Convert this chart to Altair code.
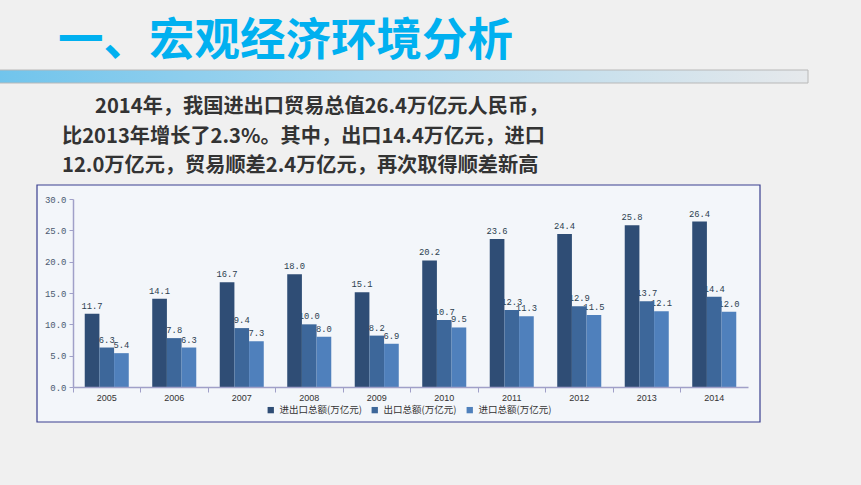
import altair as alt
import pandas as pd

years = ["2005", "2006", "2007", "2008", "2009", "2010", "2011", "2012", "2013", "2014"]
total = [11.7, 14.1, 16.7, 18.0, 15.1, 20.2, 23.6, 24.4, 25.8, 26.4]
exports = [6.3, 7.8, 9.4, 10.0, 8.2, 10.7, 12.3, 12.9, 13.7, 14.4]
imports = [5.4, 6.3, 7.3, 8.0, 6.9, 9.5, 11.3, 11.5, 12.1, 12.0]
series_names = ["进出口总额(万亿元)", "出口总额(万亿元)", "进口总额(万亿元)"]
series_colors = ["#2f4d75", "#3d679a", "#4f80bc"]

title_text = "一、宏观经济环境分析"
para_lines = [
    "2014年，我国进出口贸易总值26.4万亿元人民币，",
    "比2013年增长了2.3%。其中，出口14.4万亿元，进口",
    "12.0万亿元，贸易顺差2.4万亿元，再次取得顺差新高",
]

rows = []
for i, y in enumerate(years):
    for name, vals in zip(series_names, [total, exports, imports]):
        rows.append({"year": y, "series": name, "value": vals[i]})
df = pd.DataFrame(rows)
one = pd.DataFrame({"k": [0]})

W, H = 675, 188
PL, PT = 73, 199

x_enc = alt.X("year:N", sort=years, title=None,
              scale=alt.Scale(paddingInner=0, paddingOuter=0),
              axis=alt.Axis(bandPosition=0, labelAngle=0, labelFont="Liberation Sans",
                            labelFontSize=9, labelColor="#333333", labelPadding=1,
                            tickSize=5, tickColor="#a0a0c8", domainColor="#a0a0c8",
                            domainWidth=1.5, ticks=True, zindex=1))
xo_enc = alt.XOffset("series:N", sort=series_names, scale=alt.Scale(paddingOuter=0.8, paddingInner=0))
y_enc = alt.Y("value:Q", title=None,
              scale=alt.Scale(domain=[0, 30], nice=False),
              axis=alt.Axis(values=[0, 5, 10, 15, 20, 25, 30], format=".1f", grid=False,
                            labelFont="Liberation Mono", labelFontSize=9, labelColor="#4a5a70",
                            tickSize=4, tickColor="#a0a0c8", domainColor="#a0a0c8",
                            domainWidth=1.5, labelPadding=3, zindex=1))

box = alt.Chart(one).mark_rect(fill="#f3f6fa", stroke="#3a3f8f", strokeWidth=1.2).encode(
    x=alt.value(37 - PL), x2=alt.value(760 - PL), y=alt.value(185 - PT), y2=alt.value(422 - PT))

grad = alt.Chart(one).mark_rect(
    fill=alt.LinearGradient(gradient="linear", x1=0, x2=1, y1=0, y2=0,
                            stops=[alt.GradientStop(color="#70c4ec", offset=0),
                                   alt.GradientStop(color="#a9d7ee", offset=0.45),
                                   alt.GradientStop(color="#e6e9ec", offset=1)]),
    stroke="#b8b8b8", strokeWidth=1).encode(
    x=alt.value(-5 - PL), x2=alt.value(808 - PL), y=alt.value(70 - PT), y2=alt.value(83 - PT))

title = alt.Chart(one).mark_text(text=title_text, font="Noto Sans CJK SC", fontWeight="bold",
                                 fontSize=45.5, color="#00b0f0", align="left", baseline="middle").encode(
    x=alt.value(58 - PL), y=alt.value(42 - PT))

para_layers = []
for i, (line, lx, ly) in enumerate(zip(para_lines, [95, 62, 62], [107, 137, 166])):
    para_layers.append(
        alt.Chart(one).mark_text(text=line, font="Noto Sans CJK SC", fontWeight="bold",
                                 fontSize=20.2, color="#333333", align="left", baseline="middle").encode(
            x=alt.value(lx - PL), y=alt.value(ly - PT)))

labels = alt.Chart(df).mark_text(font="Liberation Mono", fontSize=8.8, color="#2c3e50",
                                 baseline="bottom", dy=-3).encode(
    x=x_enc, xOffset=xo_enc, y=y_enc, text=alt.Text("value:Q", format=".1f"))

bars = alt.Chart(df).mark_bar().encode(
    x=x_enc, xOffset=xo_enc, y=y_enc,
    color=alt.Color("series:N", sort=series_names,
                    scale=alt.Scale(domain=series_names, range=series_colors),
                    legend=alt.Legend(title=None, orient="none", direction="horizontal",
                                      legendX=266 - PL, legendY=405 - PT,
                                      symbolType="square", symbolSize=40, symbolStrokeWidth=0,
                                      labelFont="Noto Sans CJK SC", labelFontSize=9.5,
                                      labelColor="#333333", columnPadding=8, symbolOffset=0)))

chart = alt.layer(box, grad, title, *para_layers, labels, bars).properties(
    width=W, height=H,
    autosize=alt.AutoSizeParams(type="none"),
    padding={"left": PL, "top": PT, "right": 861 - PL - W, "bottom": 485 - PT - H},
    background="#f0f0f0",
).configure_view(stroke=None)

chart.save("out.html", embed_options={"renderer": "svg", "actions": False})
